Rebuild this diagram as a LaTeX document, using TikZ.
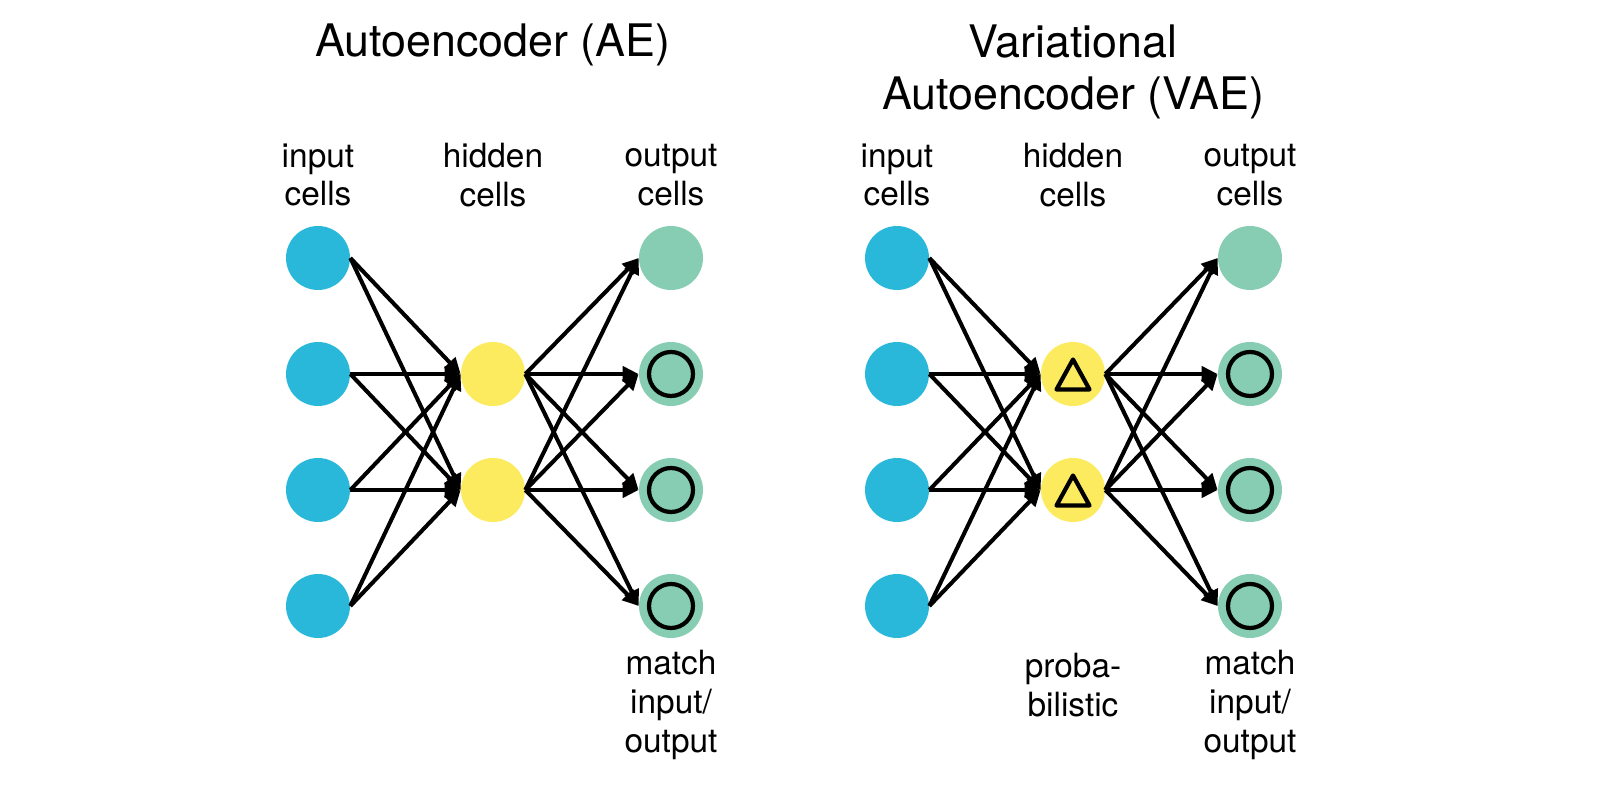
\documentclass[tikz,border=0pt]{standalone}
\usepackage{fontspec}
\setmainfont{TeX Gyre Heros}
\usetikzlibrary{arrows.meta}
\definecolor{cin}{HTML}{29B8DA}
\definecolor{chid}{HTML}{FCEB5E}
\definecolor{cout}{HTML}{86CDB3}
\begin{document}
\begin{tikzpicture}[x=0.02cm,y=-0.02cm,
  cell/.style={circle,minimum size=1.28cm,inner sep=0pt},
  incell/.style={cell,fill=cin},
  hidcell/.style={cell,fill=chid},
  outcell/.style={cell,fill=cout},
  matchcell/.style={outcell,path picture={\draw[line width=2.4pt] (path picture bounding box.center) circle (0.44cm);}},
  probcell/.style={hidcell,path picture={\draw[line width=2.4pt,line join=round] ([yshift=-0.04cm]path picture bounding box.center)+(-0.33cm,-0.27cm) -- +(0.33cm,-0.27cm) -- +(0,0.33cm) -- cycle;}},
  conn/.style={line width=2.3pt,-{Triangle[length=0.32cm,width=0.3cm]}},
  lab/.style={align=center,font=\fontsize{19}{22}\selectfont},
  ttl/.style={align=center,font=\fontsize{25.5}{30}\selectfont}]
\useasboundingbox (0,0) rectangle (1600,793);
\node[ttl] (t1) at (493,45) {Autoencoder (AE)};
\node[ttl] (t2) at (1073,72) {Variational\\Autoencoder (VAE)};
\foreach \p/\xi/\xh/\xo in {a/318/493/671, b/897/1073/1250}{
  \node[lab] (\p li) at (\xi,175) {input\\cells};
  \node[lab] (\p lh) at (\xh,175) {hidden\\cells};
  \node[lab] (\p lo) at (\xo,175) {output\\cells};
  \foreach \i/\y in {1/258,2/374,3/490,4/606}{
    \node[incell] (\p i\i) at (\xi,\y) {};
  }
  \node[outcell] (\p o1) at (\xo,258) {};
  \foreach \i/\y in {2/374,3/490,4/606}{
    \node[matchcell] (\p o\i) at (\xo,\y) {};
  }
}
\node[hidcell] (ah1) at (493,374) {};
\node[hidcell] (ah2) at (493,490) {};
\node[probcell] (bh1) at (1073,374) {};
\node[probcell] (bh2) at (1073,490) {};
\foreach \p in {a,b}{
  \foreach \i in {1,...,4}{
    \foreach \h in {1,2}{
      \draw[conn] (\p i\i.east) -- (\p h\h.west);
      \draw[conn] (\p h\h.east) -- (\p o\i.west);
    }
  }
}
\node[lab] (m1) at (671,705) {match\\input/\\output};
\node[lab] (m2) at (1250,705) {match\\input/\\output};
\node[lab] (pb) at (1073,685) {proba-\\bilistic};
\end{tikzpicture}
\end{document}
